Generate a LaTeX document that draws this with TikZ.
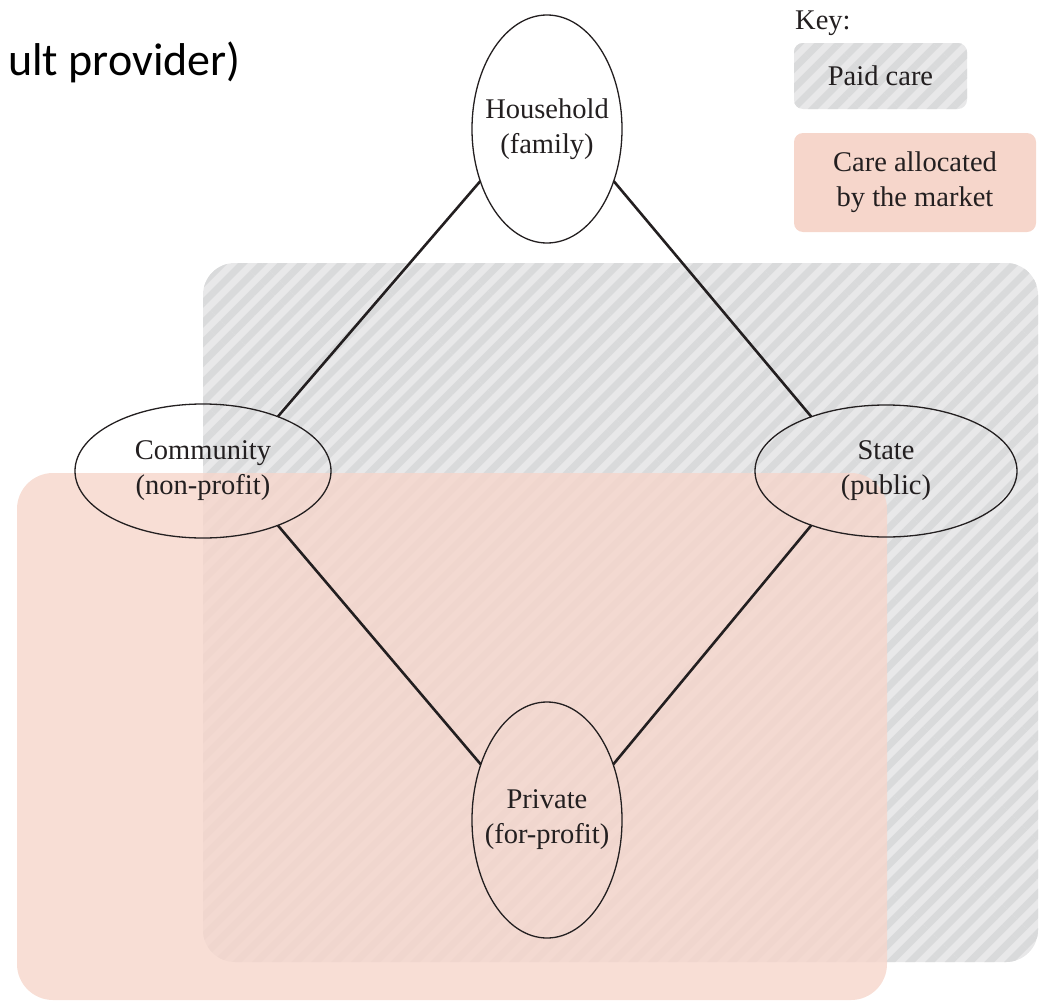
\documentclass[tikz,border=0pt]{standalone}
\usepackage{fontspec}
\setmainfont{Liberation Serif}
\newfontfamily\slidefont{Carlito}
\usetikzlibrary{shapes.geometric,patterns.meta}
\definecolor{paidG}{RGB}{232,232,233}
\definecolor{paidS}{RGB}{217,218,219}
\definecolor{mktP}{RGB}{246,214,203}
\definecolor{inkK}{RGB}{35,31,32}

\begin{document}
\begin{tikzpicture}[x=1pt,y=-1pt,
  paid/.style={fill=paidG,postaction={pattern={Lines[angle=45,distance=14pt,line width=7pt]},pattern color=paidS}},
  market/.style={fill=mktP,fill opacity=0.8},
  sector/.style={ellipse,draw=inkK,line width=1.3pt,inner sep=0pt,outer sep=0pt},
  lbl/.style={font=\fontsize{28.5}{35}\selectfont,text=inkK,align=center,inner sep=0pt},
  link/.style={line width=2.6pt,draw=inkK}]
\useasboundingbox (0,0) rectangle (1041,1001);
% areas: paid care (hatched), allocated by the market (pink)
\fill[paid,rounded corners=32pt] (203,263) rectangle (1038,962);
\fill[market,rounded corners=36pt] (17,473) rectangle (887,1000);
% cut-off slide title
\node[anchor=base west,inner sep=0pt,font=\slidefont\fontsize{46}{50}\selectfont,text=black] (cut) at (8,75) {ult provider)};
% the four providers
\node[sector,minimum width=150pt,minimum height=228pt] (hh) at (547,129) {};
\node[sector,minimum width=256pt,minimum height=134pt] (com) at (203,471) {};
\node[sector,minimum width=262pt,minimum height=132pt] (st) at (886,471) {};
\node[sector,minimum width=150pt,minimum height=236pt] (pr) at (547,820) {};
\node[lbl] at (hh) {Household\\(family)};
\node[lbl] at (com) {Community\\(non-profit)};
\node[lbl] at (st) {State\\(public)};
\node[lbl] at (pr) {Private\\(for-profit)};
% diamond
\draw[link] (hh.218) -- (com.36);
\draw[link] (hh.322) -- (st.144);
\draw[link] (com.324) -- (pr.140);
\draw[link] (st.216) -- (pr.40);
% key
\node[lbl,anchor=base west] (key) at (795,29) {Key:};
\node[lbl,paid,rounded corners=9pt,minimum width=173pt,minimum height=66pt] (kpaid) at (880.5,76) {Paid care};
\node[lbl,fill=mktP,rounded corners=9pt,minimum width=242pt,minimum height=99pt] (kmkt) at (915,182.5) {Care allocated\\by the market};
\end{tikzpicture}
\end{document}
